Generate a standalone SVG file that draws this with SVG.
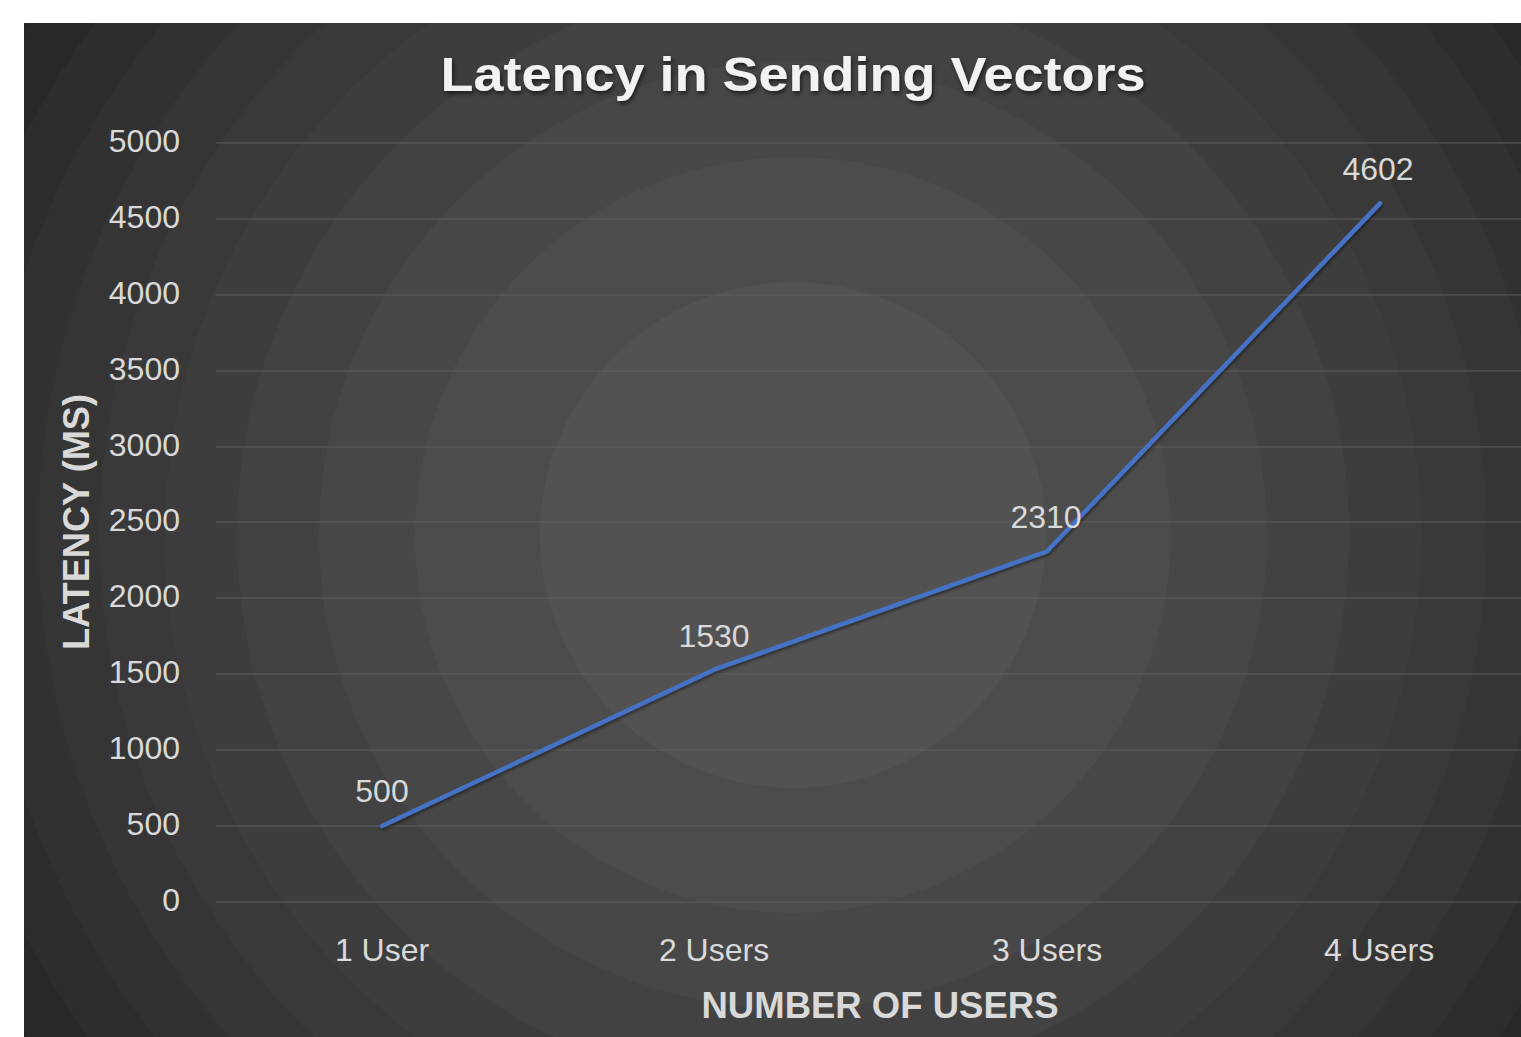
<svg xmlns="http://www.w3.org/2000/svg" width="1521" height="1037" viewBox="0 0 1521 1037">
<style>
.grid{stroke:#5e5e5e;stroke-width:1.2}
.tick{font-family:"Liberation Sans",Arial,sans-serif;font-size:32px;fill:#d9d9d9}
.dl{font-family:"Liberation Sans",Arial,sans-serif;font-size:32px;fill:#d9d9d9;text-anchor:middle}
.ttl{font-family:"Liberation Sans",Arial,sans-serif;font-weight:bold;fill:#d9d9d9;text-anchor:middle}
.ring{stroke:none}
</style>
<defs>
<clipPath id="bgclip"><rect x="24" y="23" width="1497" height="1014"/></clipPath>
<filter id="shadow" x="-5%" y="-20%" width="110%" height="150%">
<feDropShadow dx="1.5" dy="2.5" stdDeviation="2" flood-color="#000000" flood-opacity="0.6"/>
</filter>
<filter id="lshadow" x="-5%" y="-5%" width="110%" height="110%">
<feDropShadow dx="1" dy="2" stdDeviation="1.5" flood-color="#000000" flood-opacity="0.45"/>
</filter>
</defs>
<rect width="1521" height="1037" fill="#ffffff"/>
<g id="background" clip-path="url(#bgclip)">
<rect x="24" y="23" width="1497" height="1014" fill="#232323"/>
<circle class="ring" cx="793" cy="535" r="966" fill="#252525"/>
<circle class="ring" cx="793" cy="535" r="917" fill="#282828"/>
<circle class="ring" cx="793" cy="535" r="866" fill="#2d2d2d"/>
<circle class="ring" cx="793" cy="535" r="812" fill="#313131"/>
<circle class="ring" cx="793" cy="535" r="755" fill="#353535"/>
<circle class="ring" cx="793" cy="535" r="694" fill="#393939"/>
<circle class="ring" cx="793" cy="535" r="628" fill="#3d3d3d"/>
<circle class="ring" cx="793" cy="535" r="556" fill="#424242"/>
<circle class="ring" cx="793" cy="535" r="474" fill="#474747"/>
<circle class="ring" cx="793" cy="535" r="378" fill="#4c4c4c"/>
<circle class="ring" cx="793" cy="535" r="253" fill="#525252"/>
</g>
<g id="gridlines">
<line class="grid" x1="216" y1="143" x2="1521" y2="143"/>
<line class="grid" x1="216" y1="219" x2="1521" y2="219"/>
<line class="grid" x1="216" y1="295" x2="1521" y2="295"/>
<line class="grid" x1="216" y1="371" x2="1521" y2="371"/>
<line class="grid" x1="216" y1="447" x2="1521" y2="447"/>
<line class="grid" x1="216" y1="522" x2="1521" y2="522"/>
<line class="grid" x1="216" y1="598" x2="1521" y2="598"/>
<line class="grid" x1="216" y1="674" x2="1521" y2="674"/>
<line class="grid" x1="216" y1="750" x2="1521" y2="750"/>
<line class="grid" x1="216" y1="826" x2="1521" y2="826"/>
<line class="grid" x1="216" y1="902" x2="1521" y2="902"/>
</g>
<g id="y-ticks" text-anchor="end">
<text class="tick" x="180" y="152">5000</text>
<text class="tick" x="180" y="228">4500</text>
<text class="tick" x="180" y="304">4000</text>
<text class="tick" x="180" y="380">3500</text>
<text class="tick" x="180" y="456">3000</text>
<text class="tick" x="180" y="531">2500</text>
<text class="tick" x="180" y="607">2000</text>
<text class="tick" x="180" y="683">1500</text>
<text class="tick" x="180" y="759">1000</text>
<text class="tick" x="180" y="835">500</text>
<text class="tick" x="180" y="911">0</text>
</g>
<g id="x-ticks" text-anchor="middle">
<text class="tick" x="382" y="961">1 User</text>
<text class="tick" x="714" y="961">2 Users</text>
<text class="tick" x="1047" y="961">3 Users</text>
<text class="tick" x="1379" y="961">4 Users</text>
</g>
<g id="connectors">
<polyline points="382,826 714,669.7 1047,551.3 1380,203.4" fill="none" stroke="#4472c4" stroke-width="4.5" stroke-linejoin="round" stroke-linecap="round" filter="url(#lshadow)"/>
</g>
<g id="data-labels">
<text class="dl" x="382" y="802">500</text>
<text class="dl" x="714" y="647">1530</text>
<text class="dl" x="1046" y="528">2310</text>
<text class="dl" x="1378" y="180">4602</text>
</g>
<g id="titles">
<text class="ttl" x="793" y="91" font-size="48" fill="#f2f2f2" style="fill:#f2f2f2" filter="url(#shadow)" textLength="705" lengthAdjust="spacingAndGlyphs">Latency in Sending Vectors</text>
<text class="ttl" x="880" y="1018" font-size="36" textLength="357" lengthAdjust="spacingAndGlyphs">NUMBER OF USERS</text>
<text class="ttl" transform="translate(89,522) rotate(-90)" x="0" y="0" font-size="36" textLength="256" lengthAdjust="spacingAndGlyphs">LATENCY (MS)</text>
</g>
</svg>
